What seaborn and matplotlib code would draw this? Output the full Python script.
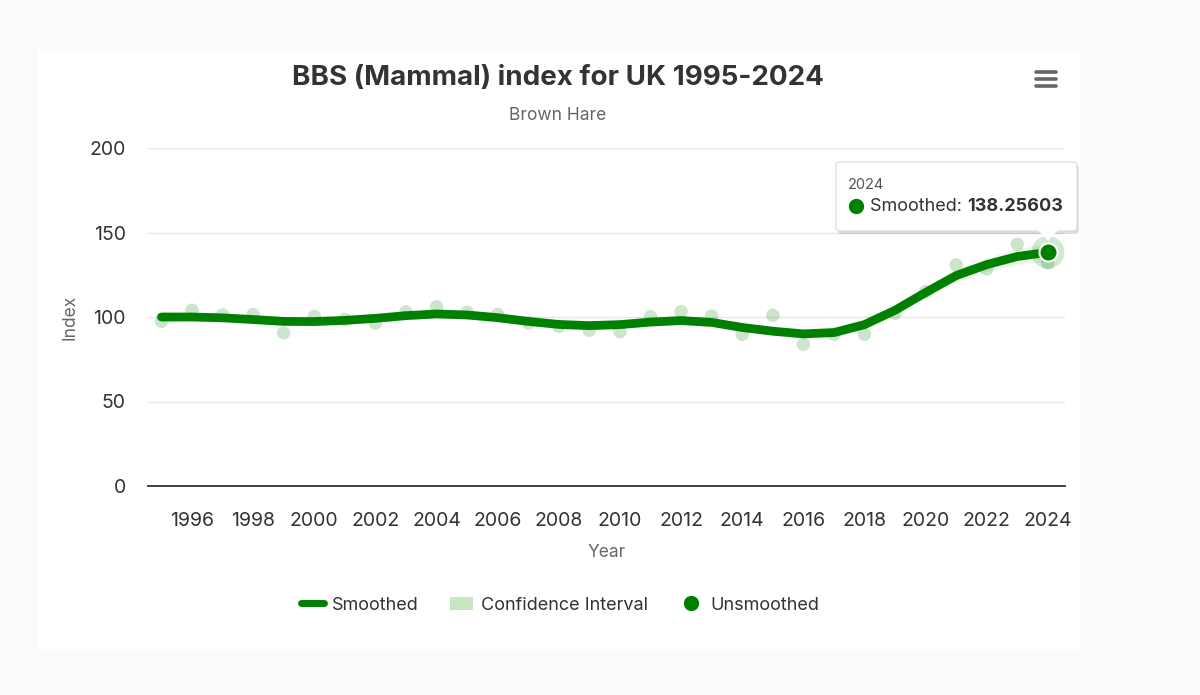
import matplotlib
matplotlib.use("Agg")
import matplotlib.pyplot as plt
import seaborn as sns
import pandas as pd
from matplotlib.lines import Line2D
from matplotlib.patches import Patch, FancyBboxPatch, Rectangle, Polygon

# Brown Hare index values
years = list(range(1995, 2025))
smoothed = [100.0, 100.0, 99.5, 98.5, 97.4, 97.3, 98.0, 99.2, 100.8, 101.8,
            101.2, 99.6, 97.4, 95.6, 94.9, 95.5, 97.0, 97.9, 96.8, 93.8,
            91.6, 90.0, 90.8, 95.5, 104.0, 114.5, 124.5, 131.0, 135.8, 138.25603]
unsmoothed = [97.5, 104.0, 101.2, 101.4, 90.7, 100.3, 98.5, 96.4, 103.0, 106.0,
              102.8, 101.4, 96.5, 94.5, 92.2, 91.3, 100.2, 103.2, 100.5, 89.8,
              101.0, 83.8, 89.8, 89.8, 102.2, 115.0, 130.8, 128.5, 143.0, 132.0]
ci_lower = [97.0, 97.5, 97.3, 96.5, 95.4, 95.3, 96.0, 97.1, 98.6, 99.5,
            98.9, 97.4, 95.2, 93.4, 92.6, 93.2, 94.7, 95.6, 94.5, 91.5,
            89.2, 87.5, 88.2, 92.8, 101.0, 111.2, 120.8, 127.0, 131.2, 133.0]
ci_upper = [103.0, 102.5, 101.8, 100.6, 99.4, 99.3, 100.0, 101.3, 103.0, 104.1,
            103.5, 101.8, 99.6, 97.8, 97.2, 97.8, 99.3, 100.2, 99.1, 96.1,
            94.0, 92.5, 93.4, 98.2, 107.0, 117.8, 128.2, 135.0, 140.4, 143.5]
x_ticks = list(range(1996, 2025, 2))
y_ticks = [0, 50, 100, 150, 200]

df = pd.DataFrame({"year": years, "smoothed": smoothed, "unsmoothed": unsmoothed,
                   "lower": ci_lower, "upper": ci_upper})

GREEN = "#008000"
W, H = 1200, 695

sns.set_theme(style="white")
plt.rcParams["font.family"] = ["Inter", "DejaVu Sans"]


def fx(x):
    return x / W


def fy(y):
    return 1 - y / H


fig = plt.figure(figsize=(12, 6.95), dpi=100, facecolor="#fbfbfb")
# white card behind the chart
fig.patches.append(Rectangle((fx(38), fy(650)), fx(1081) - fx(38), fy(50) - fy(650),
                             transform=fig.transFigure, facecolor="white",
                             edgecolor="none", zorder=-10))

ax = fig.add_axes([fx(148), fy(486), fx(1065) - fx(148), fy(148) - fy(486)])
ax.set_facecolor("none")

ax.fill_between(df["year"], df["lower"], df["upper"], color="#c8e6c0",
                alpha=0.35, linewidth=0, zorder=1)
sns.scatterplot(data=df, x="year", y="unsmoothed", ax=ax, color=GREEN, alpha=0.2,
                s=95, edgecolor="none", zorder=2, legend=False)
sns.lineplot(data=df, x="year", y="smoothed", ax=ax, color=GREEN, linewidth=6.3,
             solid_capstyle="round", zorder=3, legend=False)

# hovered point
last_x, last_y = years[-1], smoothed[-1]
ax.scatter([last_x], [last_y], s=560, color=GREEN, alpha=0.18, edgecolor="none", zorder=4)
ax.scatter([last_x], [last_y], s=170, color=GREEN, edgecolor="white", linewidth=1.5, zorder=5)

ax.set_xlim(1994.56, 2024.56)
ax.set_ylim(0, 200)
ax.set_xticks(x_ticks)
ax.set_yticks(y_ticks)
ax.tick_params(axis="x", length=0, pad=19, labelsize=14, labelcolor="#333333")
ax.tick_params(axis="y", length=0, pad=16, labelsize=14, labelcolor="#333333")
for v in y_ticks[1:]:
    ax.axhline(v, color="#e6e6e6", linewidth=1, zorder=0)
for side in ["top", "right", "left"]:
    ax.spines[side].set_visible(False)
ax.spines["bottom"].set_color("#333333")
ax.spines["bottom"].set_linewidth(1.3)
ax.set_xlabel("Year", fontsize=12.5, color="#666666", labelpad=10)
ax.set_ylabel("Index", fontsize=12.5, color="#666666", labelpad=8)

fig.text(fx(558), fy(78), "BBS (Mammal) index for UK 1995-2024", ha="center", va="center",
         fontsize=20, fontweight="bold", color="#333333")
fig.text(fx(558), fy(116), "Brown Hare", ha="center", va="center", fontsize=12.5,
         color="#666666")

# menu icon
for yy in (72, 79, 86):
    fig.lines.append(Line2D([fx(1036), fx(1056)], [fy(yy), fy(yy)], transform=fig.transFigure,
                            color="#666666", linewidth=2.6, solid_capstyle="round"))

# tooltip
bx0, by0, bx1, by1 = 836, 162, 1077, 231
fig.patches.append(FancyBboxPatch((fx(bx0 + 2), fy(by1 + 3)), fx(bx1) - fx(bx0), fy(by0) - fy(by1),
                                  boxstyle="round,pad=0,rounding_size=0.004",
                                  transform=fig.transFigure, facecolor="#000000",
                                  alpha=0.12, edgecolor="none", zorder=8))
fig.patches.append(FancyBboxPatch((fx(bx0), fy(by1)), fx(bx1) - fx(bx0), fy(by0) - fy(by1),
                                  boxstyle="round,pad=0,rounding_size=0.004",
                                  transform=fig.transFigure, facecolor="white",
                                  edgecolor="#d9d9d9", linewidth=0.8, zorder=9))
fig.patches.append(Polygon([(fx(1038), fy(230)), (fx(1058), fy(230)), (fx(1048), fy(241))],
                           closed=True, transform=fig.transFigure, facecolor="white",
                           edgecolor="none", zorder=10))
fig.text(fx(848), fy(185), str(last_x), ha="left", va="center", fontsize=10.5,
         color="#555555", zorder=11)
fig.lines.append(Line2D([fx(856)], [fy(206)], transform=fig.transFigure, marker="o",
                        markersize=10, color=GREEN, linestyle="none", zorder=11))
t1 = fig.text(fx(870), fy(206), "Smoothed: ", ha="left", va="center", fontsize=13,
              color="#333333", zorder=11)
fig.canvas.draw()
bb = t1.get_window_extent()
fig.text(bb.x1 / W, fy(206), f"{last_y:.5f}", ha="left", va="center", fontsize=13,
         fontweight="bold", color="#333333", zorder=11)

handles = [Line2D([0], [0], color=GREEN, linewidth=5, solid_capstyle="round"),
           Patch(facecolor="#c8e6c0", edgecolor="none"),
           Line2D([0], [0], marker="o", color=GREEN, linestyle="none", markersize=10)]
fig.legend(handles, ["Smoothed", "Confidence Interval", "Unsmoothed"], loc="center",
           bbox_to_anchor=(fx(560), fy(605)), ncol=3, frameon=False, fontsize=13,
           handlelength=1.3, handletextpad=0.45, columnspacing=1.7, labelcolor="#333333")

fig.savefig("out.png", dpi=100, facecolor=fig.get_facecolor())
